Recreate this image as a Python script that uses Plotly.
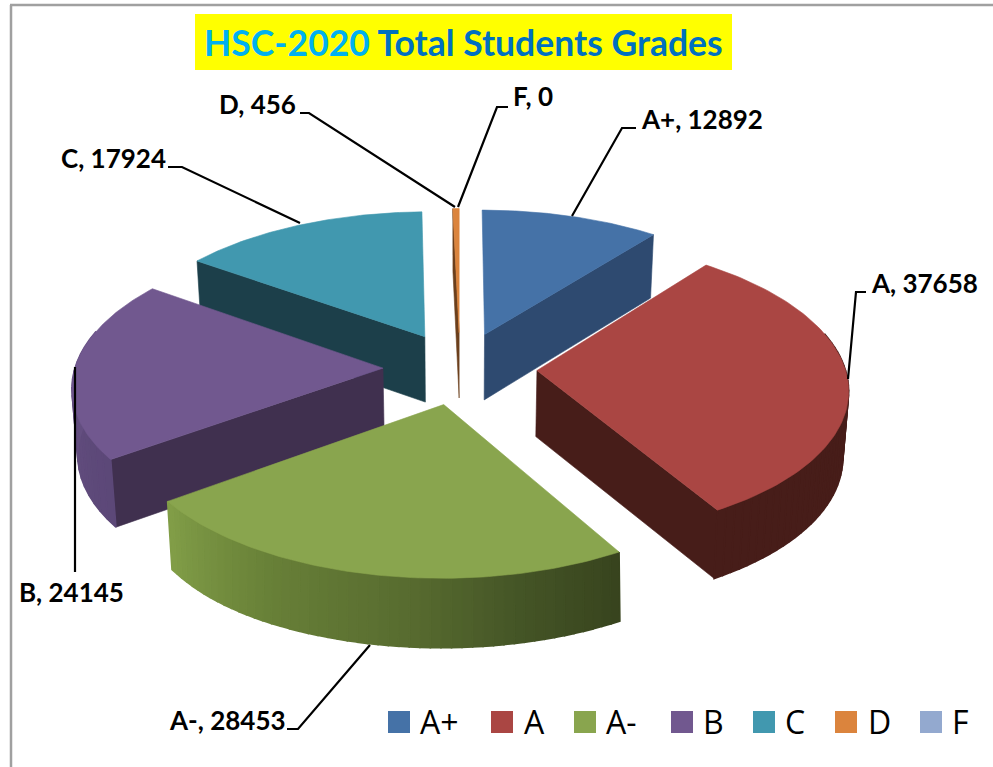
import numpy as np
import plotly.graph_objects as go

grades = ["A+", "A", "A-", "B", "C", "D", "F"]
students = [12892, 37658, 28453, 24145, 17924, 456, 0]
top_colors = ["#4572A7", "#AA4643", "#89A54E", "#71588F", "#4198AF", "#DB843D", "#93A9CF"]
inner_colors = ["#2E4A70", "#471D19", "#5A7033", "#40304F", "#1C3F4A", "#6B3F1C", "#5E6E88"]
label_xy = [(639, 119), (869, 283), (167, 720), (17, 592), (59, 158), (217, 104), (511, 96)]
leaders = [
    [(572, 216), (622, 128), (636, 128)],
    [(848, 379), (856, 292), (866, 292)],
    [(370, 645), (298, 729), (287, 729)],
    [(75, 367), (75, 572)],
    [(300, 223), (182, 167), (168, 167)],
    [(455, 207), (309, 113), (300, 113)],
    [(458, 207), (497, 107), (508, 107)],
]
legend_x = [388, 491, 574, 671, 753, 835, 920]
legend_text_x = [418, 522, 604, 701, 783, 866, 950]

CX, CY = 460, 368
BX, BY, Q = 308, 145.4, 0.112
EXPLODE = 0.25
WALL = 66


def project(deg, radius, mid, depth=False):
    a, m = np.radians(deg), np.radians(mid)
    X = radius * np.sin(a) + EXPLODE * np.sin(m)
    Y = radius * np.cos(a) + EXPLODE * np.cos(m)
    w = 1 + Q * Y
    sx = BX * X / w
    sy = BY * Y / w
    if depth:
        sx = sx * (0.985 + 0.02 * np.clip((-Y - 0.85) / 0.25, 0, 1))
        return CX + sx, CY - sy + WALL / (1 + 0.04 * Y)
    return CX + sx, CY - sy


def poly(fig, xs, ys, color, name, seam=0.6):
    fig.add_trace(go.Scatter(
        x=list(xs), y=list(ys), mode="lines", fill="toself", fillcolor=color,
        line=dict(color=color, width=seam), showlegend=False, hoverinfo="skip", name=name))


def mix(stops, t):
    pos = [s[0] for s in stops]
    rgb = [np.interp(t, pos, [s[1][i] for s in stops]) for i in range(3)]
    return "rgb(%d,%d,%d)" % tuple(int(v) for v in rgb)


total = sum(students)
edges = np.concatenate([[0], np.cumsum(students) / total * 360])
spans = {g: (edges[i], edges[i + 1]) for i, g in enumerate(grades)}

fig = go.Figure()


def edge_wall(i, deg):
    start, end = spans[grades[i]]
    mid = (start + end) / 2
    x0, y0 = project(deg, 0, mid)
    x1, y1 = project(deg, 1, mid)
    x2, y2 = project(deg, 1, mid, True)
    x3, y3 = project(deg, 0, mid, True)
    poly(fig, [x0, x1, x2, x3, x0], [y0, y1, y2, y3, y0], inner_colors[i], grades[i] + " wall")


def outer_wall(i, a0, a1, stops, bands=1):
    start, end = spans[grades[i]]
    mid = (start + end) / 2
    limits = np.linspace(a0, a1, bands + 1)
    for k in range(bands):
        seq = np.linspace(limits[k], limits[k + 1], 6)
        tx, ty = project(seq, 1, mid)
        bx, by = project(seq[::-1], 1, mid, True)
        poly(fig, [*tx, *bx, tx[0]], [*ty, *by, ty[0]], mix(stops, (k + 0.5) / bands),
             grades[i] + " rim", seam=1.6)


def top(i):
    start, end = spans[grades[i]]
    mid = (start + end) / 2
    seq = np.linspace(start, end, 90)
    x0, y0 = project(start, 0, mid)
    rx, ry = project(seq, 1, mid)
    poly(fig, [x0, *rx, x0], [y0, *ry, y0], top_colors[i], grades[i])


# Painter's order, far slices first
edge_wall(5, spans["D"][0]); top(5)
edge_wall(4, spans["C"][0]); top(4)
edge_wall(0, spans["A+"][1]); top(0)
edge_wall(3, spans["B"][0])
outer_wall(3, spans["B"][0], 285, [(0, (92, 72, 120)), (1, (104, 82, 132))], bands=16)
top(3)
edge_wall(1, spans["A"][1])
outer_wall(1, 75, spans["A"][1], [(0, (71, 29, 25)), (1, (71, 29, 25))], bands=40)
top(1)
outer_wall(2, spans["A-"][0], spans["A-"][1], [
    (0, (56, 68, 30)), (0.2, (68, 84, 38)), (0.42, (88, 108, 48)),
    (0.7, (104, 128, 56)), (1, (130, 158, 72))], bands=50)
top(2)

# Leader lines
for pts in leaders:
    fig.add_trace(go.Scatter(x=[p[0] for p in pts], y=[p[1] for p in pts], mode="lines",
                             line=dict(color="black", width=2.2), showlegend=False, hoverinfo="skip"))

annotations = []
FONT = "Lato"
for g, v, (lx, ly) in zip(grades, students, label_xy):
    annotations.append(dict(x=lx, y=ly, xref="x", yref="y", text=f"<b>{g}, {v}</b>", showarrow=False,
                            xanchor="left", yanchor="middle", font=dict(family=FONT, size=26, color="black")))

# Legend row
for g, c, lx, tx in zip(grades, top_colors, legend_x, legend_text_x):
    fig.add_trace(go.Scatter(x=[lx + 11], y=[722], mode="markers", name=g,
                             marker=dict(symbol="square", size=22, color=c), showlegend=False, hoverinfo="skip"))
    annotations.append(dict(x=tx, y=721, xref="x", yref="y", text=g, showarrow=False, xanchor="left",
                            yanchor="middle", font=dict(family="Open Sans", size=32, color="black")))

annotations.append(dict(
    x=463, y=42, xref="x", yref="y", showarrow=False, xanchor="center", yanchor="middle",
    text="<b><span style='color:#00B0F0'>HSC-2020</span> <span style='color:#0070C0'>Total Students Grades</span></b>",
    font=dict(family=FONT, size=35.5)))

fig.update_layout(
    width=993, height=767, margin=dict(l=0, r=0, t=0, b=0), showlegend=False,
    paper_bgcolor="white", plot_bgcolor="white",
    xaxis=dict(range=[0, 993], visible=False, fixedrange=True),
    yaxis=dict(range=[767, 0], visible=False, fixedrange=True),
    annotations=annotations,
    shapes=[
        dict(type="rect", x0=195, x1=732, y0=14, y1=70, xref="x", yref="y", fillcolor="#FFFF00",
             line_width=0, layer="below"),
        dict(type="line", x0=11, x1=11, y0=5, y1=767, xref="x", yref="y", line=dict(color="#A0A0A0", width=2.5)),
        dict(type="line", x0=10, x1=993, y0=5, y1=5, xref="x", yref="y", line=dict(color="#A0A0A0", width=2.5)),
    ])
fig.write_html("out.html", post_script="document.body.style.margin='0';", config={"displayModeBar": False})
